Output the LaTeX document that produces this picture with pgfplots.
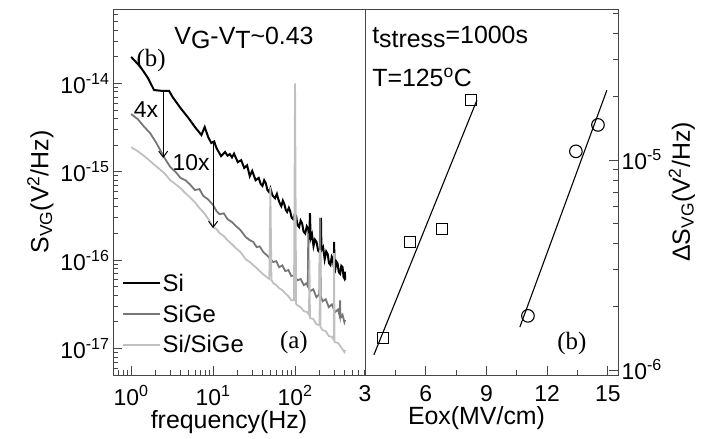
\documentclass[border=0pt]{standalone}
\usepackage{fontspec}
\setmainfont{Liberation Sans}
\newfontfamily\timesfont{Liberation Serif}
\usepackage{pgfplots}
\pgfplotsset{compat=1.18}
\usetikzlibrary{arrows.meta}
\definecolor{axgray}{RGB}{70,70,70}
\definecolor{sigecol}{RGB}{118,118,118}
\definecolor{sisigecol}{RGB}{192,192,192}
\pgfplotsset{
  every tick label/.append style={font=\fontsize{23}{25}\selectfont},
  every axis label/.append style={font=\fontsize{25}{27}\selectfont},
  /pgf/number format/assume math mode=true,
}
\begin{document}
\begin{tikzpicture}
\useasboundingbox (0bp,0bp) rectangle (703bp,439bp);
% ---------------- left panel ----------------
\begin{axis}[
  at={(113bp,64bp)}, anchor=south west, scale only axis,
  width=252bp, height=366bp,
  xmode=log, ymode=log,
  xmin=0.6, xmax=714, ymin=5.0e-18, ymax=6.93e-14,
  axis line style={axgray, line width=1pt},
  xtick={1,10,100},
  xticklabels={10\textsuperscript{0},10\textsuperscript{1},10\textsuperscript{2}},
  minor xtick={0.6,0.7,0.8,0.9,2,3,4,5,6,7,8,9,20,30,40,50,60,70,80,90,200,300,400,500,600,700},
  ytick={1e-17,1e-16,1e-15,1e-14},
  yticklabels={10\textsuperscript{-17},10\textsuperscript{-16},10\textsuperscript{-15},10\textsuperscript{-14}},
  minor ytick={6e-18,7e-18,8e-18,9e-18,2e-17,3e-17,4e-17,5e-17,6e-17,7e-17,8e-17,9e-17,2e-16,3e-16,4e-16,5e-16,6e-16,7e-16,8e-16,9e-16,2e-15,3e-15,4e-15,5e-15,6e-15,7e-15,8e-15,9e-15,2e-14,3e-14,4e-14,5e-14,6e-14},
  xtick pos=left, ytick pos=left, tick align=inside,
  major tick length=9bp, minor tick length=5bp,
  every tick/.style={axgray, line width=0.8pt},
  xticklabel style={yshift=-7bp},
  xlabel={frequency(Hz)},
  xlabel style={yshift=2bp, xshift=-10bp},
  ylabel={S\textsubscript{VG}(V\textsuperscript{2}/Hz)},
  legend style={at={(axis description cs:0.03,0.285)}, anchor=north west, draw=none, fill=none,
    font=\fontsize{24}{26}\selectfont, row sep=8bp, inner sep=1bp},
  legend cell align=left,
  legend image code/.code={\draw[#1,line width=2pt] (0bp,0bp) -- (37bp,0bp);},
]
\addplot[black, line width=2pt] coordinates {
(1.0,1.99e-14) (1.3,1.53e-14) (1.6,1.15e-14) (1.9,8.4e-15) (2.4,8.2e-15) (2.9,8.2e-15)
(3.2,7.0e-15) (4,5.25e-15) (5,4.05e-15) (6,3.2e-15) (7.2,2.6e-15) (7.9,3.2e-15)
(8.7,2.47e-15) (9.5,2.11e-15) (10.3,2.2e-15) (11,1.85e-15) (12.5,1.5e-15) (14,1.67e-15)
(15,1.52e-15) (16,1.58e-15) (17,1.45e-15) (18,1.6e-15) (20,1.28e-15) (22,1.35e-15)
(24,1.1e-15) (26,1.18e-15) (28,8.9e-16) (30,1.02e-15) (33,8.0e-16) (36,8.5e-16)
(38,7.3e-16) (40,6.9e-16) (42,8.0e-16) (44,7.4e-16) (46,6.2e-16) (48,5.9e-16)
(50,6.5e-16) (53,5.4e-16) (57,5.0e-16) (60,5.6e-16) (62,5.0e-16) (65,4.4e-16)
(68,4.07e-16) (71,4.7e-16) (74,4.3e-16) (77,3.7e-16) (80,3.5e-16) (84,3.9e-16)
(87,3.6e-16) (91,3.0e-16) (95,2.9e-16) (99,3.3e-16) (103,3.15e-16) (107,2.5e-16)
(112,2.36e-16) (117,2.8e-16) (122,2.6e-16) (127,2.1e-16) (133,2.0e-16) (139,2.4e-16)
(145,2.23e-16) (149,1.7e-16) (152,3.4e-16) (155,1.75e-16) (161,1.95e-16) (168,1.44e-16)
(175,1.7e-16) (183,1.6e-16) (191,1.28e-16) (200,1.23e-16) (204,1.45e-16) (207,3.0e-16)
(210,1.3e-16) (220,1.4e-16) (230,1.02e-16) (240,1.25e-16) (250,1.17e-16) (260,9.2e-17)
(270,8.8e-17) (280,1.08e-16) (290,1.0e-16) (297,8.3e-17) (300,1.6e-16) (303,8.5e-17)
(310,7.9e-17) (320,9.6e-17) (330,9.2e-17) (342,7.3e-17) (355,7.0e-17) (367,8.6e-17)
(380,8.3e-17) (390,6.5e-17) (400,6.2e-17) (405,7.4e-17) (410,6.0e-17)
};
\addlegendentry{Si}
\addplot[sigecol, line width=1.8pt] coordinates {
(1.0,4.49e-15) (1.2,3.94e-15) (1.45,3.2e-15) (1.7,2.74e-15) (2.0,2.16e-15) (2.3,1.71e-15)
(2.6,1.39e-15) (3.0,1.13e-15) (3.5,9.9e-16) (4.0,8.5e-16) (4.6,8.0e-16) (5.2,7.2e-16)
(6.0,6.2e-16) (6.8,6.35e-16) (7.6,5.3e-16) (8.6,4.9e-16) (10,4.2e-16) (11,3.58e-16)
(12,3.3e-16) (13.5,3.38e-16) (15,2.9e-16) (17,2.69e-16) (19,2.42e-16) (21,2.24e-16)
(23,2.02e-16) (25,1.82e-16) (28,1.68e-16) (31,1.6e-16) (34,1.4e-16) (37,1.43e-16)
(41,1.23e-16) (45,1.14e-16) (49,1.05e-16) (54,9.5e-17) (59,9.7e-17) (64,8.3e-17)
(70,8.7e-17) (76,7.5e-17) (83,7.7e-17) (90,6.6e-17) (98,6.7e-17) (107,5.9e-17)
(117,6.1e-17) (128,5.2e-17) (140,5.5e-17) (143,4.9e-17) (145,2.0e-16) (147,4.8e-17)
(153,4.45e-17) (167,4.67e-17) (182,3.8e-17) (198,4.1e-17) (202,3.0e-16) (206,3.9e-17)
(217,3.42e-17) (237,3.6e-17) (258,2.93e-17) (282,3.15e-17) (307,2.57e-17) (335,2.76e-17)
(352,2.3e-17) (355,3.5e-17) (358,2.3e-17) (365,2.26e-17) (380,2.4e-17) (400,1.98e-17)
(408,2.1e-17)
};
\addlegendentry{SiGe}
\addplot[sisigecol, line width=1.8pt] coordinates {
(1.0,1.89e-15) (1.2,1.71e-15) (1.45,1.5e-15) (1.7,1.32e-15) (2.0,1.16e-15) (2.3,1.04e-15)
(2.6,9.4e-16) (3.0,8.0e-16) (3.5,7.2e-16) (4.0,6.5e-16) (4.6,5.7e-16) (5.2,5.15e-16)
(6.0,4.5e-16) (6.8,3.87e-16) (7.6,3.49e-16) (8.6,2.98e-16) (10,2.36e-16) (11,2.24e-16)
(12,2.02e-16) (13.5,1.87e-16) (15,1.68e-16) (17,1.51e-16) (19,1.36e-16) (21,1.26e-16)
(23,1.14e-16) (25,1.02e-16) (28,9.5e-17) (31,8.75e-17) (34,8.1e-17) (37,7.5e-17)
(41,6.9e-17) (45,6.4e-17) (48.5,6.1e-17) (50,6.7e-16) (51.5,6.0e-17) (54,5.5e-17)
(59,5.2e-17) (64,4.8e-17) (70,4.56e-17) (76,4.2e-17) (83,3.9e-17) (90,3.5e-17)
(97,3.5e-17) (100,1.0e-14) (103,3.2e-17) (107,3.08e-17) (117,2.93e-17) (128,2.64e-17)
(140,2.58e-17) (148,2.4e-17) (150,1.0e-16) (152,2.3e-17) (153,2.2e-17) (167,2.15e-17)
(182,1.88e-17) (199,1.83e-17) (202,1.3e-16) (205,1.75e-17) (217,1.61e-17) (237,1.57e-17)
(258,1.38e-17) (282,1.35e-17) (297,1.25e-17) (300,1.2e-16) (303,1.2e-17) (307,1.18e-17)
(335,1.15e-17) (365,1.03e-17) (400,9.1e-18) (408,9.6e-18)
};
\addlegendentry{Si/SiGe}
% annotations
\draw[-{Straight Barb[length=6bp,width=9bp]}, line width=1pt] (axis cs:2.46,8.0e-15) -- (axis cs:2.46,1.43e-15);
\draw[-{Straight Barb[length=6bp,width=9bp]}, line width=1pt] (axis cs:10,2.1e-15) -- (axis cs:10,2.3e-16);
\node[font=\fontsize{25}{27}\selectfont] at (axis description cs:0.52,0.921)
  {V\raisebox{-0.3ex}{G}-V\raisebox{-0.3ex}{T}\textasciitilde0.43};
\node[font=\timesfont\fontsize{25}{27}\selectfont] at (axis description cs:0.151,0.86) {(b)};
\node[font=\fontsize{23}{25}\selectfont] at (axis description cs:0.131,0.724) {4x};
\node[font=\fontsize{23}{25}\selectfont] at (axis description cs:0.31,0.579) {10x};
\node[font=\timesfont\fontsize{25}{27}\selectfont] at (axis description cs:0.718,0.09) {(a)};
\end{axis}
% ---------------- right panel ----------------
\begin{axis}[
  at={(365bp,64bp)}, anchor=south west, scale only axis,
  width=253bp, height=366bp,
  ymode=log,
  xmin=3, xmax=15.5, ymin=9.46e-7, ymax=5.24e-5,
  axis line style={axgray, line width=1pt},
  xtick={3,6,9,12,15}, xticklabels={3,6,9,12,15},
  minor xtick={4.5,7.5,10.5,13.5},
  ytick={1e-6,1e-5},
  yticklabels={10\textsuperscript{-6},10\textsuperscript{-5}},
  minor ytick={2e-6,3e-6,4e-6,5e-6,6e-6,7e-6,8e-6,9e-6,2e-5,3e-5,4e-5,5e-5},
  xtick pos=left, ytick pos=right, yticklabel pos=right, tick align=inside,
  major tick length=9bp, minor tick length=5bp,
  every tick/.style={axgray, line width=0.8pt},
  xticklabel style={yshift=-7bp},
  xlabel={Eox(MV/cm)},
  xlabel style={yshift=2bp, xshift=-15bp},
  ylabel={ΔS\textsubscript{VG}(V\textsuperscript{2}/Hz)},
]
\addplot[black, line width=1.1pt] coordinates {(3.44,1.18e-6) (8.53,1.93e-5)};
\addplot[black, line width=1.1pt] coordinates {(10.65,1.6e-6) (14.95,2.15e-5)};
\addplot[only marks, mark=square, mark size=5.5bp, mark options={black, line width=1.1pt, fill=none}]
  coordinates {(3.89,1.42e-6) (5.22,4.07e-6) (6.80,4.69e-6) (8.23,1.93e-5)};
\addplot[only marks, mark=o, mark size=6.3bp, mark options={black, line width=1.1pt, fill=none}]
  coordinates {(11.05,1.81e-6) (13.42,1.10e-5) (14.51,1.47e-5)};
\node[anchor=north west, font=\fontsize{25}{27}\selectfont, inner sep=0pt] at (axis description cs:0.028,0.955)
  {t\raisebox{-0.35ex}{stress}=1000s};
\node[anchor=north west, font=\fontsize{25}{27}\selectfont, inner sep=0pt] at (axis description cs:0.028,0.84)
  {T=125\textsuperscript{o}C};
\node[font=\timesfont\fontsize{25}{27}\selectfont] at (axis description cs:0.818,0.087) {(b)};
\end{axis}
\end{tikzpicture}
\end{document}
